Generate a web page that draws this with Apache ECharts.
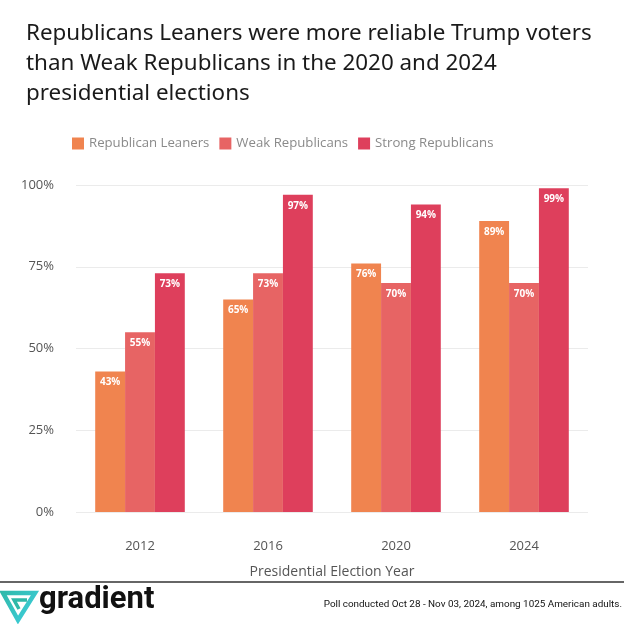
<!DOCTYPE html>
<html><head><meta charset="utf-8">
<script src="https://cdn.jsdelivr.net/npm/echarts@6/dist/echarts.min.js"></script>
<style>html,body{margin:0;padding:0;background:#fff}#c{width:624px;height:624px}</style>
</head><body><div id="c"></div>
<script>
const categories = ['2012', '2016', '2020', '2024'];
const leaners = [43, 65, 76, 89];
const weak = [55, 73, 70, 70];
const strong = [73, 97, 94, 99];
const yTicks = [0, 25, 50, 75, 100];

const chart = echarts.init(document.getElementById('c'));
const lbl = {show: true, position: 'insideTop', color: '#fff', fontWeight: 'bold', fontSize: 10, fontFamily: 'Open Sans', formatter: p => p.value + '%', distance: 6};
chart.setOption({
  animation: false,
  color: ['#F0844F', '#E76464', '#DE3F5C'],
  title: {
    text: 'Republicans Leaners were more reliable Trump voters\nthan Weak Republicans in the 2020 and 2024\npresidential elections',
    left: 21, top: 14,
    textStyle: {fontFamily: 'Noto Sans', fontSize: 22.4, fontWeight: 'normal', color: '#1a1a1a', lineHeight: 30}
  },
  legend: {
    left: 67, top: 132, itemWidth: 12, itemHeight: 12, itemGap: 10,
    icon: 'rect',
    textStyle: {fontFamily: 'Open Sans', fontSize: 13.2, color: '#8a8a8a'}
  },
  grid: {left: 76, right: 36, top: 185, bottom: 112},
  xAxis: {
    type: 'category', data: categories,
    axisLine: {show: false}, axisTick: {show: false},
    axisLabel: {fontFamily: 'Open Sans', fontSize: 13, color: '#555', margin: 28},
    name: 'Presidential Election Year', nameLocation: 'middle', nameGap: 53,
    nameTextStyle: {fontFamily: 'Open Sans', fontSize: 14, color: '#555'}
  },
  yAxis: {
    type: 'value', min: 0, max: 100, interval: 25,
    axisLabel: {fontFamily: 'Open Sans', fontSize: 13, color: '#555', formatter: v => yTicks.includes(v) ? v + '%' : '', margin: 22},
    splitLine: {lineStyle: {color: '#ebebeb'}}
  },
  series: [
    {name: 'Republican Leaners', type: 'bar', data: leaners, barGap: '0%', barCategoryGap: '30%', label: lbl},
    {name: 'Weak Republicans', type: 'bar', data: weak, label: lbl},
    {name: 'Strong Republicans', type: 'bar', data: strong, label: lbl}
  ],
  graphic: [
    {type: 'rect', shape: {x: 0, y: 581, width: 624, height: 2}, style: {fill: '#666'}},
    {type: 'polygon', shape: {points: [[3, 593], [35, 593], [18, 620]]},
     style: {fill: 'none', lineWidth: 4.5, lineJoin: 'miter', stroke: new echarts.graphic.LinearGradient(0, 0, 1, 1, [{offset: 0, color: '#2fb8a8'}, {offset: 1, color: '#3fd0e0'}])}},
    {type: 'polyline', shape: {points: [[27, 600], [14, 600], [19, 609]]}, style: {fill: 'none', lineWidth: 3.5, stroke: '#2fb8a8'}},
    {type: 'text', x: 39, y: 585, style: {text: 'gradient', fontFamily: 'Roboto', fontWeight: 'bold', fontSize: 31, fill: '#111'}},
    {type: 'text', right: 2, top: 600, style: {text: 'Poll conducted Oct 28 - Nov 03, 2024, among 1025 American adults.', fontFamily: 'Roboto', fontSize: 9.9, fill: '#111'}}
  ]
});
</script></body></html>
